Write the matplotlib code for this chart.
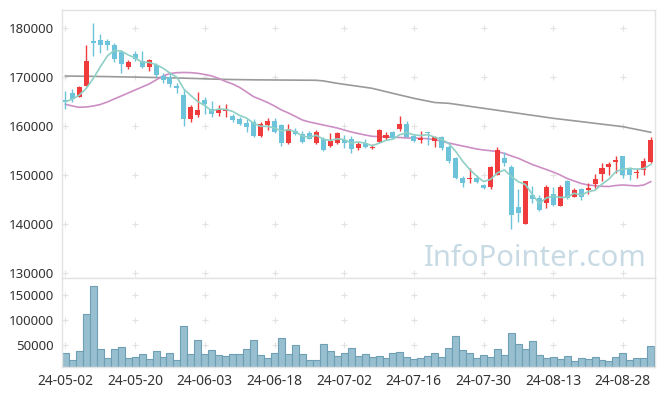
import numpy as np
from matplotlib import pyplot as plt

plt.rcParams['font.family'] = ['Noto Sans', 'DejaVu Sans']

# daily candles, 2024-05-02 .. 2024-09-03
opens = [165300, 166800, 166000, 168200, 177300, 177500, 177300, 176500, 175000, 172100,
         174700, 173300, 172100, 172500, 170100, 169900, 168200, 166300, 161400, 162300,
         165300, 163400, 162700, 163100, 162000, 161400, 160700, 160750, 158000, 160300,
         161100, 160200, 156600, 159000, 158400, 158600, 156600, 157300, 155900, 156600,
         157150, 157300, 155600, 156500, 155450, 156800, 157550, 158800, 159400, 160400,
         158000, 157150, 158780, 157000, 157700, 155800, 153500, 149400, 149200, 149450,
         148000, 147500, 150100, 153400, 151600, 143400, 139950, 145900, 145400, 144200,
         146100, 143750, 148800, 145600, 147100, 146950, 148230, 150200, 151700, 152700,
         153800, 151500, 150350, 151000, 152700]
highs = [167140, 167500, 168200, 176500, 181000, 178700, 177800, 177000, 175600, 173500,
         175400, 175400, 173700, 172900, 170900, 170800, 168700, 167300, 164300, 167000,
         166000, 165000, 164300, 164400, 162400, 161900, 161400, 161400, 160900, 161600,
         161600, 160500, 160400, 159500, 159000, 158900, 159100, 157700, 158500, 158800,
         158150, 158000, 156800, 157300, 156300, 159400, 158780, 159000, 162000, 161000,
         158300, 159000, 158800, 158000, 158000, 156100, 153700, 149700, 151500, 149900,
         148200, 151800, 155800, 154600, 152000, 147100, 148800, 147750, 146000, 148000,
         147600, 147900, 149000, 147300, 147300, 148430, 150140, 152400, 152650, 153800,
         153800, 151700, 151350, 153400, 157800]
lows = [163470, 164950, 165850, 168100, 174300, 174800, 175500, 173100, 170800, 171600,
        173300, 171800, 171300, 170000, 168700, 168000, 166700, 160000, 160900, 161900,
        162450, 161900, 162100, 161900, 160900, 160200, 158800, 157800, 157800, 159200,
        158500, 155900, 156400, 158150, 156500, 157300, 156400, 154800, 155800, 156400,
        155450, 154400, 155000, 155600, 155300, 156700, 157140, 157400, 159000, 157700,
        156700, 156600, 156120, 155650, 155000, 152400, 149200, 147500, 148400, 148400,
        147100, 147100, 150000, 151900, 138900, 140500, 139900, 144200, 142700, 143200,
        143700, 143600, 145200, 145450, 144800, 146100, 147280, 148800, 149950, 150500,
        149400, 148980, 149320, 150000, 152400]
closes = [164950, 165500, 167900, 173300, 177000, 176600, 176600, 173600, 172700, 173000,
          173600, 172100, 173500, 170400, 169400, 168600, 167800, 161400, 163800, 163300,
          164500, 162400, 163300, 163450, 161200, 160400, 159700, 158000, 160400, 161100,
          158800, 156600, 159300, 158300, 156800, 157400, 158800, 155200, 157000, 158500,
          156600, 155300, 156300, 155800, 155800, 159200, 158230, 157550, 160400, 157800,
          157000, 157500, 158500, 157700, 155600, 152900, 149450, 148400, 149450, 148650,
          147400, 151600, 155100, 152400, 141800, 142200, 148800, 145150, 142850, 147600,
          143900, 147600, 145400, 146900, 145600, 147400, 149180, 151500, 152200, 153100,
          150000, 149900, 150700, 152900, 157150]
volumes = [33300, 20000, 37300, 111300, 167300, 41300, 23300, 41300, 45300, 23300,
           25300, 31300, 21300, 37300, 25300, 33300, 19300, 87300, 31300, 59300,
           31300, 39300, 29300, 27300, 31300, 31300, 41300, 59300, 29300, 23300,
           33300, 63300, 31300, 49300, 31300, 19300, 19300, 51300, 38000, 27300,
           33300, 43300, 27300, 31300, 25300, 27300, 23300, 33300, 35300, 25300,
           21300, 23300, 27300, 33300, 25300, 43300, 67300, 39300, 33300, 23300,
           29300, 25300, 41300, 29300, 73300, 51300, 41300, 57300, 29300, 23300,
           25300, 21300, 27300, 17300, 23300, 21300, 25300, 19300, 17300, 25300,
           33300, 19300, 23300, 23300, 47300]

# moving averages
ma5 = [165000, 165450, 166330, 167700, 169730, 172060, 174280, 175420, 175300, 174500,
       173900, 173000, 172980, 172520, 171800, 170800, 169940, 167520, 166200, 164980,
       164160, 163080, 163460, 163390, 162970, 162150, 161610, 160550, 159940, 159920,
       159600, 158980, 159240, 158820, 157960, 157680, 158120, 157300, 157040, 157380,
       157220, 156520, 156740, 156500, 155960, 156480, 157070, 157320, 158240, 158640,
       158200, 158050, 158240, 157700, 157260, 156440, 154830, 152810, 151160, 149770,
       148670, 149100, 150440, 151030, 149660, 148620, 148060, 146070, 144160, 145320,
       145660, 145420, 145470, 146280, 145880, 146580, 146900, 148120, 149180, 150680,
       151200, 151340, 151180, 151320, 152130]
ma20 = [164430, 164080, 163820, 163880, 164080, 164390, 164900, 165510, 166120, 166730,
        167350, 167960, 168570, 169390, 170200, 170710, 170880, 170920, 170880, 170750,
        170510, 170200, 169700, 169080, 168570, 167860, 166940, 165980, 165410, 164800,
        164080, 163270, 162650, 161940, 161220, 160820, 160510, 160200, 159900, 159590,
        159180, 158780, 158470, 158160, 157900, 157820, 157760, 157690, 157650, 157550,
        157550, 157490, 157390, 157240, 156840, 156530, 156220, 155920, 155610, 155310,
        155100, 154960, 154760, 154390, 153880, 153410, 152760, 152140, 151630, 151120,
        150610, 150000, 149290, 148780, 148270, 147960, 147820, 147690, 147650, 147860,
        147960, 147860, 147760, 147960, 148640]
ma120 = [170200, 170180, 170160, 170140, 170120, 170100, 170080, 170050, 170020, 170000,
         169980, 169950, 169920, 169890, 169860, 169830, 169800, 169760, 169720, 169680,
         169620, 169580, 169540, 169510, 169480, 169460, 169440, 169420, 169410, 169400,
         169390, 169380, 169370, 169360, 169350, 169340, 169330, 169200, 168950, 168710,
         168500, 168300, 168100, 167900, 167690, 167350, 167000, 166660, 166320, 165990,
         165650, 165360, 165080, 164790, 164710, 164630, 164430, 164220, 164020, 163810,
         163610, 163410, 163200, 163000, 162790, 162590, 162380, 162180, 161980, 161770,
         161570, 161400, 161230, 161060, 160890, 160720, 160540, 160370, 160200, 160030,
         159860, 159570, 159290, 159000, 158710]

tick_labels = ['24-05-02', '24-05-20', '24-06-03', '24-06-18', '24-07-02',
               '24-07-16', '24-07-30', '24-08-13', '24-08-28']
price_ticks = [130000, 140000, 150000, 160000, 170000, 180000]
vol_ticks = [50000, 100000, 150000]

o = np.array(opens); c = np.array(closes)
x = np.arange(len(o))
xt = x[::10][:len(tick_labels)]
up = c >= o
col = np.where(up, '#ef3b3b', '#6cc3da')

fig = plt.figure(figsize=(6.65, 3.96), dpi=100)
ax = fig.add_axes([0.0932, 0.298, 0.8917, 0.6755])
axv = fig.add_axes([0.0932, 0.0732, 0.8917, 0.2248], sharex=ax)

# grid as small crosses
gx, gy = np.meshgrid(xt, price_ticks)
ax.scatter(gx.ravel(), gy.ravel(), marker='+', s=14, color='#e2e2e2', lw=0.8, zorder=0)
gx, gy = np.meshgrid(xt, vol_ticks)
axv.scatter(gx.ravel(), gy.ravel(), marker='+', s=14, color='#e2e2e2', lw=0.8, zorder=0)

# watermark
ax.text(0.9865, 0.045, 'InfoPointer.com', transform=ax.transAxes, ha='right', va='baseline',
        fontsize=21, color='#c8dbe5', zorder=1)

ax.plot(x, ma120, color='#9a9a9a', lw=1.2, zorder=2)
ax.plot(x, ma20, color='#cc8ec4', lw=1.2, zorder=2)
ax.vlines(x, lows, highs, colors=col, lw=1.0, zorder=3)
body = np.maximum(np.abs(c - o), 250)
ax.bar(x, body, bottom=np.minimum(o, c), width=0.72, color=col, zorder=4)
ax.plot(x, ma5, color='#8fd0c6', lw=1.2, zorder=5)

axv.bar(x, volumes, width=1.0, color='#97bfcf', edgecolor='#6f9fb4', lw=0.8)

ax.set_xlim(-0.5, len(o) - 0.4)
ax.set_ylim(128980, 183570)
axv.set_ylim(6000, 184000)

ax.set_yticks(price_ticks)
ax.set_yticklabels([str(t) for t in price_ticks])
axv.set_yticks(vol_ticks)
axv.set_yticklabels([str(t) for t in vol_ticks])
axv.set_xticks(xt)
axv.set_xticklabels(tick_labels)
ax.tick_params(axis='x', labelbottom=False, length=0)

for a in (ax, axv):
    a.tick_params(axis='y', length=0, pad=6, labelsize=9.5, labelcolor='#333333')
    a.tick_params(axis='x', length=0, pad=5, labelsize=10, labelcolor='#333333')
    for s in a.spines.values():
        s.set_color('#e3e3e3')
        s.set_linewidth(1.0)

plt.savefig('out.png', dpi=100)
